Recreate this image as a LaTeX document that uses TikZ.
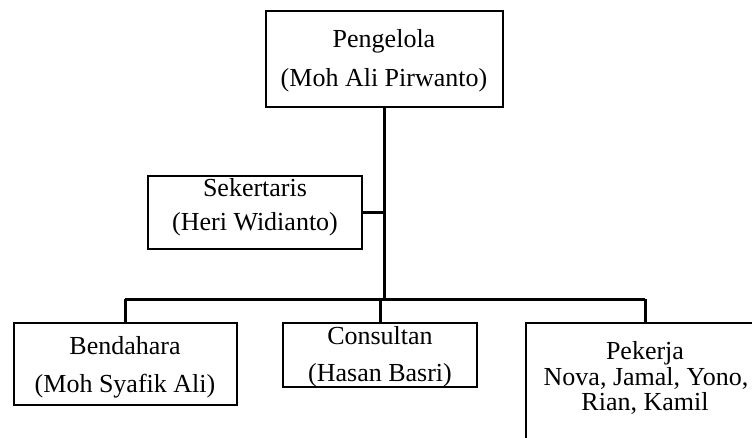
\documentclass[tikz,border=0pt]{standalone}
\usepackage{fontspec}
\setmainfont{Liberation Serif}
\begin{document}
\begin{tikzpicture}[x=1pt,y=-1pt,
  box/.style={draw=black,line width=2.8pt,rectangle,inner sep=0pt,fill=white},
  txt/.style={anchor=base,inner sep=0pt,font=\fontsize{26}{30}\selectfont},
  conn/.style={draw=black,line width=3pt}]
\useasboundingbox (0,0) rectangle (752,438);
% boxes
\node[box,minimum width=237pt,minimum height=96pt] (peng) at (384.5,59) {};
\node[box,minimum width=214pt,minimum height=73pt] (sek) at (255,212.5) {};
\node[box,minimum width=223pt,minimum height=82pt] (bend) at (125.5,364) {};
\node[box,minimum width=194pt,minimum height=64pt] (cons) at (380,355) {};
\node[box,minimum width=244pt,minimum height=137pt] (pek) at (648,391.5) {};
% texts
\node[txt] (pengA) at (384,48) {Pengelola};
\node[txt] (pengB) at (384,87) {(Moh Ali Pirwanto)};
\node[txt] (sekA) at (255,197) {Sekertaris};
\node[txt] (sekB) at (255,231) {(Heri Widianto)};
\node[txt] (bendA) at (125,354) {Bendahara};
\node[txt] (bendB) at (125,392) {(Moh Syafik Ali)};
\node[txt] (consA) at (380,344) {Consultan};
\node[txt] (consB) at (380,381) {(Hasan Basri)};
\node[txt] (pekA) at (645,359) {Pekerja};
\node[txt] (pekB) at (646,385) {Nova, Jamal, Yono,};
\node[txt] (pekC) at (645,410) {Rian, Kamil};
% connectors
\coordinate (jT) at (384,299);
\coordinate (jB) at (125,299);
\coordinate (jC) at (380,299);
\coordinate (jP) at (645,299);
\draw[conn] (peng.south -| jT) -- (jT);
\draw[conn] (sek.east) -- (sek.east -| jT);
\draw[conn] (jB) -- (jP);
\draw[conn] (jB) -- (jB |- bend.north);
\draw[conn] (jC) -- (jC |- cons.north);
\draw[conn] (jP) -- (jP |- pek.north);
\end{tikzpicture}
\end{document}
